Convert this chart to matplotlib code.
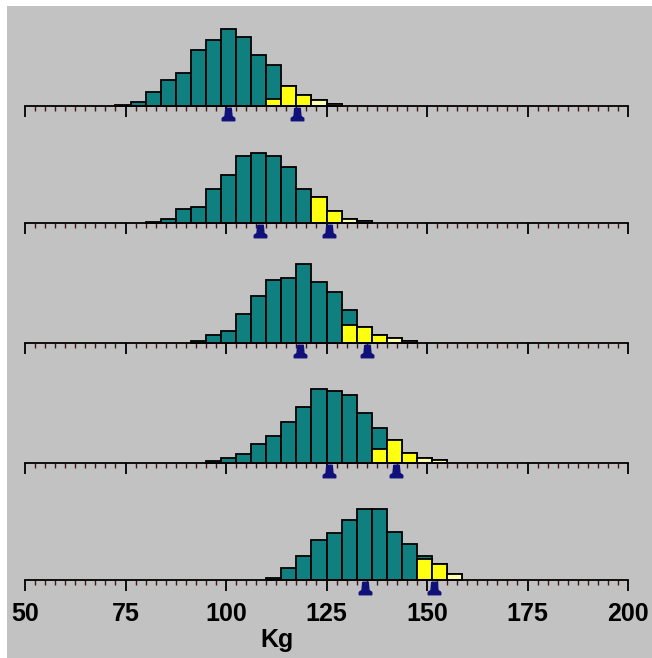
import matplotlib
matplotlib.use("Agg")
import matplotlib.pyplot as plt
from matplotlib.patches import Rectangle
from matplotlib.ticker import MultipleLocator
from matplotlib.path import Path
from matplotlib import font_manager
import numpy as np

# ---- data ----
bin_width = 3.75
x_min, x_max = 50, 200

p1_start = 6
p1_total = [1, 3.5, 14, 25.7, 32.3, 56, 66, 76.7, 68.3, 50.3, 40.3, 19.3, 11, 5.7, 1.7]
p1_yel_start = 16
p1_yellow = [6.7, 19.3, 11]
p1_pale_start = 19
p1_pale = [5.7, 1.7]
p1_markers = [100.6, 117.6]

p2_start = 8
p2_total = [1.3, 3.7, 13.7, 15.7, 34, 48, 66.7, 70.3, 66.7, 56.3, 33.7, 26, 12, 3.7, 2]
p2_yel_start = 19
p2_yellow = [26, 12]
p2_pale_start = 21
p2_pale = [3.7, 2]
p2_markers = [108.5, 125.6]

p3_start = 11
p3_total = [2, 8.3, 12.3, 28.7, 46.7, 63, 65, 79, 61, 51, 33, 16.3, 8.3, 4.7, 2]
p3_yel_start = 21
p3_yellow = [17.7, 16.3, 8.3]
p3_pale_start = 24
p3_pale = [4.7, 2]
p3_markers = [118.4, 135.0]

p4_start = 12
p4_total = [2, 4.3, 8.7, 19, 27, 40.7, 55.3, 73.3, 71.7, 67.3, 49.3, 35, 22.3, 10, 4.3, 2.3]
p4_yel_start = 23
p4_yellow = [13.7, 22.3, 10]
p4_pale_start = 26
p4_pale = [4.3, 2.3]
p4_markers = [125.5, 142.2]

p5_start = 16
p5_total = [1.7, 11.7, 23.7, 40, 46.3, 60, 70.7, 70.7, 48, 35.7, 24, 15.7, 5.7]
p5_yel_start = 26
p5_yellow = [21, 15.7]
p5_pale_start = 28
p5_pale = [5.7]
p5_markers = [134.6, 151.8]

tick_labels = ["50", "75", "100", "125", "150", "175", "200"]
x_label = "Kg"

panels = [
    (p1_start, p1_total, p1_yel_start, p1_yellow, p1_pale_start, p1_pale, p1_markers),
    (p2_start, p2_total, p2_yel_start, p2_yellow, p2_pale_start, p2_pale, p2_markers),
    (p3_start, p3_total, p3_yel_start, p3_yellow, p3_pale_start, p3_pale, p3_markers),
    (p4_start, p4_total, p4_yel_start, p4_yellow, p4_pale_start, p4_pale, p4_markers),
    (p5_start, p5_total, p5_yel_start, p5_yellow, p5_pale_start, p5_pale, p5_markers),
]

# ---- style ----
W, H = 652, 658
BG = "#c2c2c2"
TEAL = "#0f7f7f"
YELLOW = "#ffff10"
PALE = "#ffffb0"
NAVY = "#10107a"
axis_y_px = [105.5, 223, 343, 462.5, 579.5]
left_px, right_px = 25, 628
below, above = 20, 95

available = {f.name for f in font_manager.fontManager.ttflist}
font = [f for f in ["Liberation Sans Narrow", "DejaVu Sans Condensed", "Liberation Sans", "DejaVu Sans"]
        if f in available]
stretch = "condensed"

pawn = Path([(-0.22, 0.5), (0.22, 0.5), (0.28, -0.15), (0.5, -0.3), (0.5, -0.5),
             (-0.5, -0.5), (-0.5, -0.3), (-0.28, -0.15), (-0.22, 0.5)])

fig = plt.figure(figsize=(W / 100, H / 100), dpi=100)
fig.patch.set_facecolor("white")
fig.patches.append(Rectangle((7 / W, 0), 1 - 7 / W, 1 - 6 / H, transform=fig.transFigure,
                             facecolor=BG, edgecolor="none", zorder=-10))

for i, (s, tot, ys, yel, ps, pale, mk) in enumerate(panels):
    ypx = axis_y_px[i]
    bottom = 1 - (ypx + below) / H
    height = (below + above) / H
    ax = fig.add_axes([left_px / W, bottom, (right_px - left_px) / W, height])
    ax.set_facecolor("none")
    ax.set_xlim(x_min, x_max)
    ax.set_ylim(-below, above)

    lefts = x_min + bin_width * (s + np.arange(len(tot)))
    ax.bar(lefts, tot, width=bin_width, align="edge", color=TEAL,
           edgecolor="black", linewidth=1.3, zorder=2)
    ylefts = x_min + bin_width * (ys + np.arange(len(yel)))
    ax.bar(ylefts, yel, width=bin_width, align="edge", color=YELLOW,
           edgecolor="black", linewidth=1.3, zorder=3)
    plefts = x_min + bin_width * (ps + np.arange(len(pale)))
    ax.bar(plefts, pale, width=bin_width, align="edge", color=PALE,
           edgecolor="black", linewidth=1.3, zorder=3)

    ax.plot(mk, [-8.0] * len(mk), linestyle="none", marker=pawn, markersize=9,
            color=NAVY, zorder=5, clip_on=False)

    for sp in ["top", "left", "right"]:
        ax.spines[sp].set_visible(False)
    ax.spines["bottom"].set_position(("data", 0))
    ax.spines["bottom"].set_linewidth(1.3)
    ax.spines["bottom"].set_zorder(4)
    ax.set_yticks([])
    ax.xaxis.set_major_locator(MultipleLocator(25))
    ax.xaxis.set_minor_locator(MultipleLocator(2.5))
    ax.tick_params(axis="x", which="major", length=8, width=1.3, direction="out", color="black")
    ax.tick_params(axis="x", which="minor", length=3.5, width=1.0, direction="out", color="#401818")
    if i == len(panels) - 1:
        ax.set_xticks(np.arange(x_min, x_max + 1, 25))
        ax.set_xticklabels(tick_labels, fontfamily=font, fontweight="bold", fontsize=18,
                           fontstretch=stretch)
        ax.tick_params(axis="x", which="major", pad=8)
        ax.text(112.6, -61, x_label, ha="center", va="center", fontfamily=font,
                fontweight="bold", fontsize=18, fontstretch=stretch,
                transform=ax.transData, clip_on=False)
    else:
        ax.set_xticklabels([])

fig.savefig("out.png", dpi=100, facecolor=fig.get_facecolor())
